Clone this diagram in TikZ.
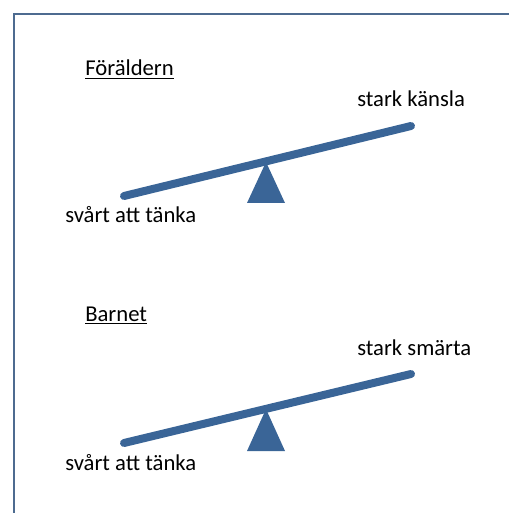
\documentclass[tikz,border=0pt]{standalone}
\usepackage{fontspec}
\setmainfont{Carlito}
\usetikzlibrary{positioning}
\definecolor{Beam}{HTML}{3A6597}
\definecolor{Frame}{HTML}{4D6B90}

\begin{document}
\begin{tikzpicture}[x=0.75pt,y=-0.75pt,font=\fontsize{17}{20}\selectfont,
    lbl/.style={inner sep=0pt,anchor=base west},
    beam/.style={Beam,line width=6pt,line cap=round},
    pivot/.style={fill=Beam,draw=none}]
        \useasboundingbox (0,0) rectangle (509,513);
        \draw[Frame,line width=1.6pt] (14,513)--(14,14)--(509,14);
        % parent
        \node[lbl] (parent) at (85,76) {\underline{Föräldern}};
        \coordinate (pL) at (124,196);\coordinate (pR) at (411,126);
        \draw[beam] (pL)--(pR);
        \fill[pivot] (266,162)--(285,203)--(247,203)--cycle;
        \node[lbl] (pfeel) at (357,107) {stark känsla};
        \node[lbl] (pthink) at (65,223) {svårt att tänka};
        % child
        \node[lbl] (child) at (85,321) {\underline{Barnet}};
        \coordinate (cL) at (124,443);\coordinate (cR) at (411,374);
        \draw[beam] (cL)--(cR);
        \fill[pivot] (266,409)--(285,451)--(247,451)--cycle;
        \node[lbl] (cpain) at (357,355) {stark smärta};
        \node[lbl] (cthink) at (65,470) {svårt att tänka};
      \end{tikzpicture}
\end{document}
